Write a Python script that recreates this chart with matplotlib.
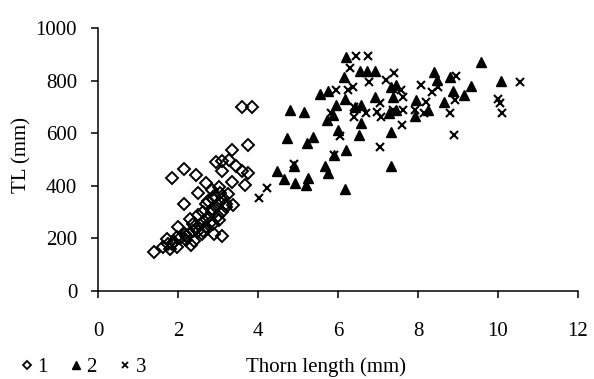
import matplotlib
matplotlib.use("Agg")
import matplotlib.pyplot as plt
from matplotlib.lines import Line2D

# group 1 (open diamonds)
g1_x = [3.61, 3.86, 3.75, 3.35, 2.96, 3.09, 3.28, 3.44, 3.59, 3.75,
        3.68, 3.36, 3.11, 2.15, 1.85, 2.46, 2.71, 2.51, 2.15, 2.86,
        3.03, 3.38, 3.19, 3.05, 2.30, 2.63, 2.32, 3.03, 2.01, 1.39,
        1.72, 1.63, 1.80, 1.98, 3.09, 2.90, 2.40, 2.17, 2.51, 2.71,
        2.88, 3.00, 2.84, 2.76, 2.63, 1.97, 1.84, 2.38, 3.13, 3.26,
        2.88, 2.38,
        # dense part of the cluster
        1.75, 1.90, 2.05, 2.20, 2.30, 2.45, 2.55, 2.65, 2.75, 2.85,
        2.95, 3.05, 2.20, 2.60, 2.80, 3.10, 3.20, 2.50, 2.70, 2.90]
g1_y = [700, 700, 556, 537, 491, 496, 499, 474, 458, 449,
        403, 415, 458, 462, 430, 440, 412, 374, 330, 383,
        395, 327, 330, 374, 274, 299, 176, 270, 242, 148,
        198, 167, 161, 167, 211, 215, 192, 217, 230, 242,
        255, 286, 311, 343, 230, 205, 179, 255, 355, 368,
        348, 230,
        180, 185, 200, 210, 220, 235, 250, 265, 280, 300,
        320, 340, 195, 215, 260, 300, 320, 290, 330, 360]

# group 2 (filled triangles)
g2_x = [6.19, 9.57, 6.15, 6.54, 6.73, 6.92, 8.40, 8.48, 8.79, 10.08,
        9.32, 9.14, 8.88, 5.54, 5.75, 6.17, 5.96, 5.73, 5.88, 6.00,
        7.32, 7.46, 7.38, 6.92, 6.58, 6.42, 6.57, 7.96, 8.25, 7.92,
        7.46, 7.28, 8.64, 5.38, 6.52, 7.32, 6.19, 5.89, 5.67, 5.75,
        6.17, 7.32, 4.81, 5.16, 4.73, 5.22, 4.91, 4.47, 4.64, 4.92,
        5.19, 5.24]
g2_y = [891, 869, 813, 836, 836, 836, 832, 803, 813, 800,
        778, 744, 760, 750, 759, 731, 706, 650, 669, 612,
        775, 782, 738, 738, 706, 700, 637, 725, 690, 665,
        688, 675, 719, 585, 592, 606, 537, 518, 474, 447,
        386, 477, 690, 681, 583, 562, 474, 455, 424, 409,
        403, 430]

# group 3 (crosses)
g3_x = [6.46, 6.75, 6.31, 7.40, 7.21, 6.78, 8.96, 10.54, 5.96, 6.25,
        6.38, 8.07, 8.35, 8.50, 7.58, 7.63, 8.92, 10.00, 10.06, 10.10,
        8.81, 8.21, 8.15, 7.92, 7.63, 7.38, 7.04, 7.08, 6.98, 6.39,
        6.71, 6.40, 7.61, 8.90, 6.06, 5.83, 7.06, 5.90, 4.90, 4.22,
        4.02]
g3_y = [895, 895, 848, 828, 803, 794, 819, 794, 765, 763,
        775, 782, 757, 775, 763, 738, 725, 731, 715, 675,
        675, 719, 675, 688, 690, 690, 713, 660, 681, 698,
        678, 660, 631, 592, 590, 675, 547, 518, 481, 390,
        355]

x_ticks = [0, 2, 4, 6, 8, 10, 12]
y_ticks = [0, 200, 400, 600, 800, 1000]

plt.rcParams["font.family"] = ["Liberation Serif", "DejaVu Serif"]
plt.rcParams["font.size"] = 15

fig = plt.figure(figsize=(5.94, 3.79), dpi=100)
ax = fig.add_axes([98 / 594, 1 - 291 / 379, 480 / 594, 263 / 379])

ax.plot(g1_x, g1_y, linestyle="none", marker="D", markersize=6.3,
        markerfacecolor="none", markeredgecolor="black", markeredgewidth=1.4)
ax.plot(g2_x, g2_y, linestyle="none", marker="^", markersize=6.8,
        color="black")
ax.plot(g3_x, g3_y, linestyle="none", marker="x", markersize=5.6,
        color="black", markeredgewidth=1.5)

ax.set_xlim(0, 12)
ax.set_ylim(0, 1000)
ax.set_xticks(x_ticks)
ax.set_yticks(y_ticks)
ax.spines["top"].set_visible(False)
ax.spines["right"].set_visible(False)
ax.spines["left"].set_linewidth(1.1)
ax.spines["bottom"].set_linewidth(1.1)
ax.tick_params(direction="out", length=5, width=1.1)
ax.tick_params(axis="x", pad=17)
ax.tick_params(axis="y", pad=10)

fig.text(22 / 594, 1 - 155 / 379, "TL (mm)", rotation=90, ha="center", va="center")
fig.text(326 / 594, 1 - 367 / 379, "Thorn length (mm)", ha="center", va="center")

handles = [
    Line2D([], [], linestyle="none", marker="D", markersize=4.5,
           markerfacecolor="none", markeredgecolor="black", markeredgewidth=1.3),
    Line2D([], [], linestyle="none", marker="^", markersize=5.5, color="black"),
    Line2D([], [], linestyle="none", marker="x", markersize=4.5, color="black",
           markeredgewidth=1.3),
]
fig.legend(handles, ["1", "2", "3"], loc="center left",
           bbox_to_anchor=(22 / 594, 1 - 367 / 379), ncol=3, frameon=False,
           handlelength=0.5, handletextpad=0.25, columnspacing=1.1,
           borderpad=0, borderaxespad=0)

fig.savefig("out.png", dpi=100)
